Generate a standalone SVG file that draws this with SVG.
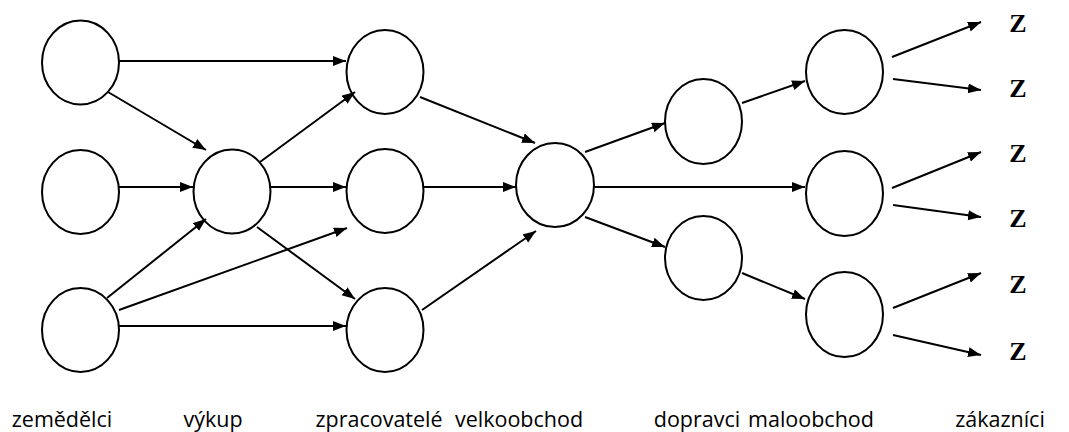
<svg xmlns="http://www.w3.org/2000/svg" width="1069" height="432" viewBox="0 0 1069 432">
<style>
.n{fill:#fff;stroke:#000;stroke-width:2}
.c line{stroke:#000;stroke-width:2;marker-end:url(#ah)}
.lbl{font-family:"Open Sans","Noto Sans",sans-serif;font-size:21.5px;fill:#000;text-anchor:middle}
.z{font-family:"Liberation Serif",serif;font-weight:bold;font-size:26px;fill:#000;text-anchor:middle}
</style>
<defs>
<marker id="ah" markerUnits="userSpaceOnUse" markerWidth="13" markerHeight="11" refX="13" refY="5" orient="auto">
<path d="M0,0 L13,5 L0,10 Z" fill="#000"/>
</marker>
</defs>
<rect width="1069" height="432" fill="#fff"/>
<g id="zem1"><ellipse class="n" cx="80.5" cy="62.5" rx="38.5" ry="42"/></g>
<g id="zem2"><ellipse class="n" cx="80.5" cy="192" rx="38.5" ry="42"/></g>
<g id="zem3"><ellipse class="n" cx="80.5" cy="330" rx="38.5" ry="42"/></g>
<g id="vykup"><ellipse class="n" cx="232" cy="191.5" rx="38.5" ry="42"/></g>
<g id="zpr1"><ellipse class="n" cx="385" cy="72" rx="38.5" ry="42"/></g>
<g id="zpr2"><ellipse class="n" cx="385" cy="191" rx="38.5" ry="42"/></g>
<g id="zpr3"><ellipse class="n" cx="385" cy="330" rx="38.5" ry="42"/></g>
<g id="velko"><ellipse class="n" cx="555" cy="185" rx="39" ry="42"/></g>
<g id="dopr1"><ellipse class="n" cx="703.5" cy="121.5" rx="38.5" ry="42.5"/></g>
<g id="dopr2"><ellipse class="n" cx="703.5" cy="258" rx="38.5" ry="42"/></g>
<g id="malo1"><ellipse class="n" cx="844.5" cy="72" rx="38.5" ry="42"/></g>
<g id="malo2"><ellipse class="n" cx="844.5" cy="193.5" rx="38.5" ry="42.5"/></g>
<g id="malo3"><ellipse class="n" cx="844.5" cy="314.5" rx="38.5" ry="42.5"/></g>
<g id="z1"><text class="z" x="1018" y="32">Z</text></g>
<g id="z2"><text class="z" x="1018" y="97">Z</text></g>
<g id="z3"><text class="z" x="1018" y="162">Z</text></g>
<g id="z4"><text class="z" x="1018" y="227">Z</text></g>
<g id="z5"><text class="z" x="1018" y="293">Z</text></g>
<g id="z6"><text class="z" x="1018" y="360">Z</text></g>
<g class="c" id="connectors">
<line x1="119" y1="61" x2="346" y2="61"/>
<line x1="108" y1="92" x2="206" y2="150"/>
<line x1="119" y1="187" x2="193" y2="187"/>
<line x1="107" y1="298" x2="206" y2="219"/>
<line x1="119" y1="310" x2="347" y2="228"/>
<line x1="119" y1="326" x2="346" y2="326"/>
<line x1="260" y1="162" x2="355" y2="92"/>
<line x1="271" y1="187" x2="346" y2="187"/>
<line x1="257" y1="227" x2="355" y2="299"/>
<line x1="420" y1="97" x2="535" y2="143"/>
<line x1="424" y1="187" x2="516" y2="187"/>
<line x1="422" y1="310" x2="536" y2="231"/>
<line x1="585" y1="152" x2="665" y2="123"/>
<line x1="594" y1="187" x2="805" y2="187"/>
<line x1="585" y1="217" x2="665" y2="247"/>
<line x1="742" y1="103" x2="805" y2="81"/>
<line x1="742" y1="273" x2="805" y2="299"/>
<line x1="892" y1="57" x2="981" y2="22"/>
<line x1="893" y1="79" x2="981" y2="90"/>
<line x1="892" y1="188" x2="981" y2="152"/>
<line x1="893" y1="205" x2="981" y2="217"/>
<line x1="893" y1="308" x2="981" y2="273"/>
<line x1="893" y1="335" x2="981" y2="355"/>
</g>
<g id="labels">
<text class="lbl" x="62" y="427">zemědělci</text>
<text class="lbl" x="213" y="427">výkup</text>
<text class="lbl" x="379" y="427">zpracovatelé</text>
<text class="lbl" x="519" y="427">velkoobchod</text>
<text class="lbl" x="697" y="427">dopravci</text>
<text class="lbl" x="811" y="427">maloobchod</text>
<text class="lbl" x="1000" y="427">zákazníci</text>
</g>
</svg>
